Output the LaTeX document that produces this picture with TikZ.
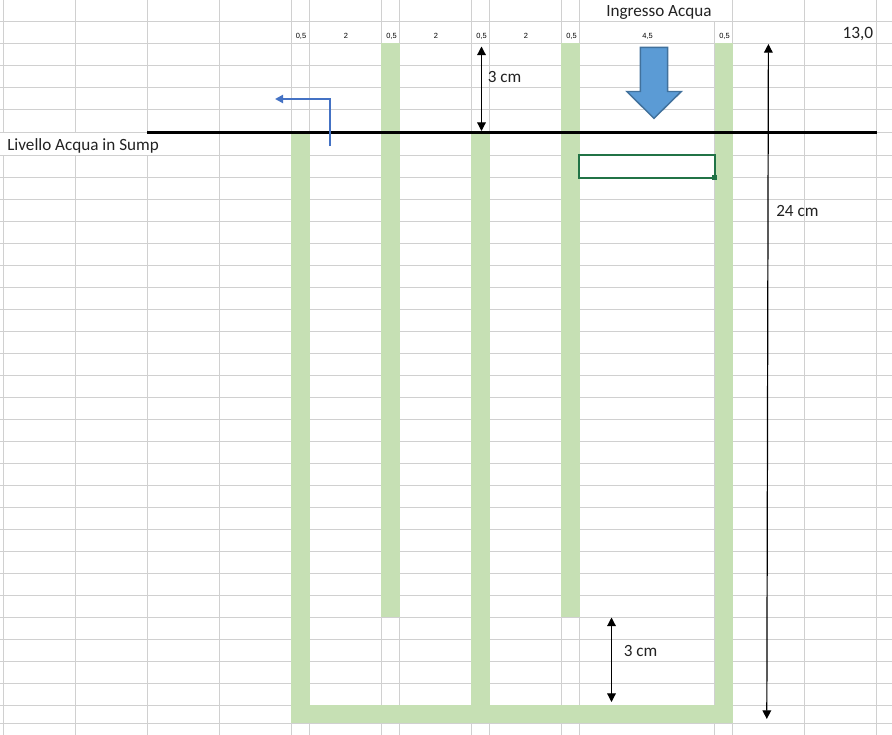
\documentclass[tikz,border=0pt]{standalone}
\usepackage{fontspec}
\setmainfont{Carlito}
\newfontfamily\smallfont{Liberation Sans}
\usetikzlibrary{arrows.meta}
\definecolor{gridc}{HTML}{D0D0D0}
\definecolor{wallc}{HTML}{C6E0B4}
\definecolor{txtc}{HTML}{222222}
\definecolor{selc}{HTML}{217346}
\definecolor{inletfill}{HTML}{5B9BD5}
\definecolor{inletdraw}{HTML}{41719C}
\definecolor{outc}{HTML}{4472C4}
\tikzset{
  x=0.75pt,y=-0.75pt,
  gridline/.style={draw=gridc,line width=0.75pt},
  wall/.style={fill=wallc,draw=none},
  dim/.style={draw=black,line width=0.9pt,{Triangle[length=6.5pt,width=6.5pt]}-{Triangle[length=6.5pt,width=6.5pt]}},
  tiny/.style={inner sep=0pt,font=\smallfont\fontsize{5.6pt}{6pt}\selectfont,text=black},
  label/.style={inner sep=0pt,font=\fontsize{12.85pt}{15pt}\selectfont,text=txtc},
  outflow/.style={draw=outc,line width=1.5pt,-{Triangle[length=6pt,width=6pt]}},
}
\begin{document}
\begin{tikzpicture}
\useasboundingbox (0,0) rectangle (892,735);
\fill[white] (0,0) rectangle (892,735);
% spreadsheet grid
\foreach \y in {21.7,43.3,65.3,87.3,109.3,132.3,155,177.3,199.3,221.3,243.3,265.3,287.3,309.3,331.3,353.3,375.3,397.3,419.3,441.3,463.3,485.3,507.3,529.3,551.3,573.3,595.3,617.3,639.3,661.3,683.3,705.3,723.3}
  \draw[gridline] (0,\y) -- (892,\y);
\foreach \x in {219.3,291.3,309.5,381.3,399.4,471.3,489.4,561.3,579.4,732.7,804.3,876.3}
  \draw[gridline] (\x,0) -- (\x,735);
\draw[gridline] (714.6,21.7) -- (714.6,735);
\foreach \x in {3.7,75.3,147.3} {
  \draw[gridline] (\x,0) -- (\x,132.3);
  \draw[gridline] (\x,155) -- (\x,735);
}
% walls
\path[wall] (291.3,132.3) rectangle (309.8,723.3);
\path[wall] (381.3,43.3) rectangle (399.8,617.3);
\path[wall] (471.3,132.3) rectangle (489.8,723.3);
\path[wall] (561.3,43.3) rectangle (579.8,617.3);
\path[wall] (714.5,43.3) rectangle (733,723.3);
\path[wall] (291.3,705.3) rectangle (733,723.3);
% water level
\coordinate (levelL) at (147.3,132.3);
\coordinate (levelR) at (877,132.3);
\draw[black,line width=2.3pt] (levelL) -- (levelR);
% selected cell
\draw[draw=selc,line width=1.5pt] (578.8,155) rectangle (715.2,178);
\fill[selc] (711.9,174.5) rectangle (717.4,180);
% inlet arrow
\draw[fill=inletfill,draw=inletdraw,line width=1.1pt]
  (640.4,47.3) -- (667.7,47.3) -- (667.7,91.5) -- (681.3,91.5) -- (654,118.3) -- (626.8,91.5) -- (640.4,91.5) -- cycle;
% outlet arrow
\coordinate (outS) at (329.7,146);
\coordinate (outC) at (329.7,99);
\coordinate (outE) at (275,99);
\draw[outflow] (outS) -- (outC) -- (outE);
% dimensions
\coordinate (dimAt) at (481.5,46.5);
\coordinate (dimAb) at (481.5,131);
\draw[dim] (dimAt) -- (dimAb);
\coordinate (dimBt) at (768.4,44);
\coordinate (dimBb) at (766.8,719);
\draw[dim] (dimBt) -- (dimBb);
\coordinate (dimCt) at (611.5,617.5);
\coordinate (dimCb) at (611.5,702);
\draw[dim] (dimCt) -- (dimCb);
% labels
\foreach \n/\x/\t in {a/301/{0,5},b/346/2,c/391.5/{0,5},d/436/2,e/481.5/{0,5},f/526/2,g/571.5/{0,5},h/647.5/{4,5},i/724.5/{0,5}}
  \node[tiny] (w\n) at (\x,36) {\t};
\node[label,anchor=base west] (sump) at (7,150.3) {Livello Acqua in Sump};
\node[label,anchor=base west] (ing) at (606,17) {Ingresso Acqua};
\node[label,anchor=base east,font=\fontsize{13pt}{15pt}\selectfont] (tot) at (873.5,38.5) {13,0};
\node[label,anchor=base west] (d1) at (487.5,82.5) {3 cm};
\node[label,anchor=base west] (d2) at (776,216.5) {24 cm};
\node[label,anchor=base west] (d3) at (623.5,656.5) {3 cm};
\end{tikzpicture}
\end{document}
